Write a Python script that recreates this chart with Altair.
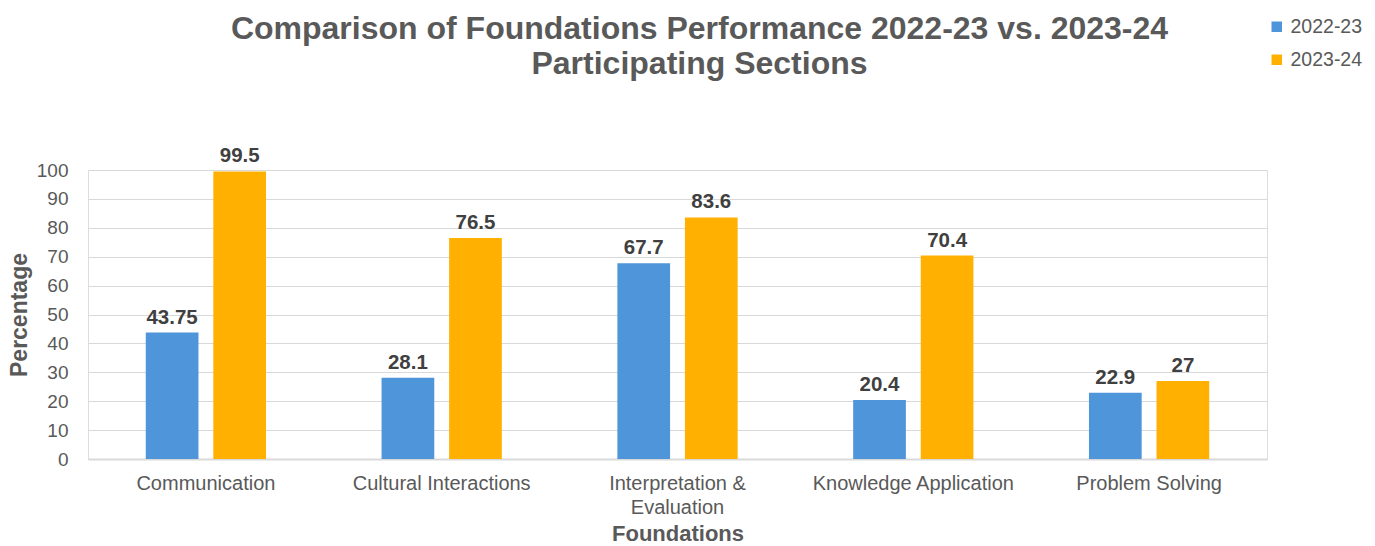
import altair as alt
import pandas as pd

categories = ["Communication", "Cultural Interactions", "Interpretation & Evaluation",
              "Knowledge Application", "Problem Solving"]
series = ["2022-23", "2023-24"]
values_2022 = [43.75, 28.1, 67.7, 20.4, 22.9]
values_2023 = [99.5, 76.5, 83.6, 70.4, 27]
labels_2022 = ["43.75", "28.1", "67.7", "20.4", "22.9"]
labels_2023 = ["99.5", "76.5", "83.6", "70.4", "27"]
y_ticks = [0, 10, 20, 30, 40, 50, 60, 70, 80, 90, 100]

rows = []
for c, v, l in zip(categories, values_2022, labels_2022):
    rows.append({"Foundation": c, "Year": series[0], "Value": v, "Label": l})
for c, v, l in zip(categories, values_2023, labels_2023):
    rows.append({"Foundation": c, "Year": series[1], "Value": v, "Label": l})
df = pd.DataFrame(rows)

FONT = "Liberation Sans"
GRAY = "#595959"

x = alt.X("Foundation:N", sort=categories,
          scale=alt.Scale(paddingInner=0.49, paddingOuter=0.245),
          axis=alt.Axis(title="Foundations", labelAngle=0, labelFontSize=20, labelColor=GRAY,
                        labelFont=FONT, labelPadding=14, labelLineHeight=24, labelLimit=400,
                        labelExpr="datum.label == 'Interpretation & Evaluation' ? ['Interpretation &', 'Evaluation'] : datum.label",
                        titleFontSize=22, titleFont=FONT, titleColor=GRAY, titleFontWeight="bold",
                        titlePadding=6, ticks=False, domainColor="#d9d9d9", domainWidth=2,
                        grid=False))
xo = alt.XOffset("Year:N", sort=series, scale=alt.Scale(paddingInner=0.22))
y = alt.Y("Value:Q", scale=alt.Scale(domain=[0, 100], nice=False),
          axis=alt.Axis(title="Percentage", values=y_ticks, tickCount=20, labelOverlap=False,
                        labelFontSize=19, labelColor=GRAY, labelFont=FONT, labelPadding=20,
                        ticks=False, domain=False, gridColor="#d9d9d9", gridWidth=1.2,
                        titleFontSize=23, titleFont=FONT, titleColor=GRAY, titleFontWeight="bold",
                        titlePadding=5))

color = alt.Color("Year:N", sort=series,
                  scale=alt.Scale(domain=series, range=["#4E95D9", "#FFB000"]),
                  legend=alt.Legend(title=None, orient="none", legendX=1179, legendY=-153,
                                    symbolType="square", symbolSize=110, symbolStrokeWidth=0,
                                    labelFontSize=19.5, labelFont=FONT, labelColor=GRAY,
                                    rowPadding=12, labelOffset=4))

bars = alt.Chart(df).mark_bar().encode(x=x, xOffset=xo, y=y, color=color)
text = alt.Chart(df).mark_text(baseline="bottom", dy=-5, fontSize=20.5, fontWeight="bold",
                               font=FONT, color="#404040").encode(
    x=alt.X("Foundation:N", sort=categories), xOffset=alt.XOffset("Year:N", sort=series),
    y=y, text="Label:N")

chart = alt.layer(bars, text).properties(
    width=1179, height=289,
    title=alt.TitleParams(
        text=["Comparison of Foundations Performance 2022-23 vs. 2023-24", "Participating Sections"],
        fontSize=32, font=FONT, fontWeight="bold", color=GRAY, anchor="middle",
        dx=22, offset=0, dy=64, lineHeight=35),
    autosize=alt.AutoSizeParams(type="none"),
    padding={"left": 88, "top": 170, "right": 108, "bottom": 87},
).configure_view(stroke=None).configure(background="white")

chart.save("out.html", embed_options={"renderer": "svg", "actions": False})
